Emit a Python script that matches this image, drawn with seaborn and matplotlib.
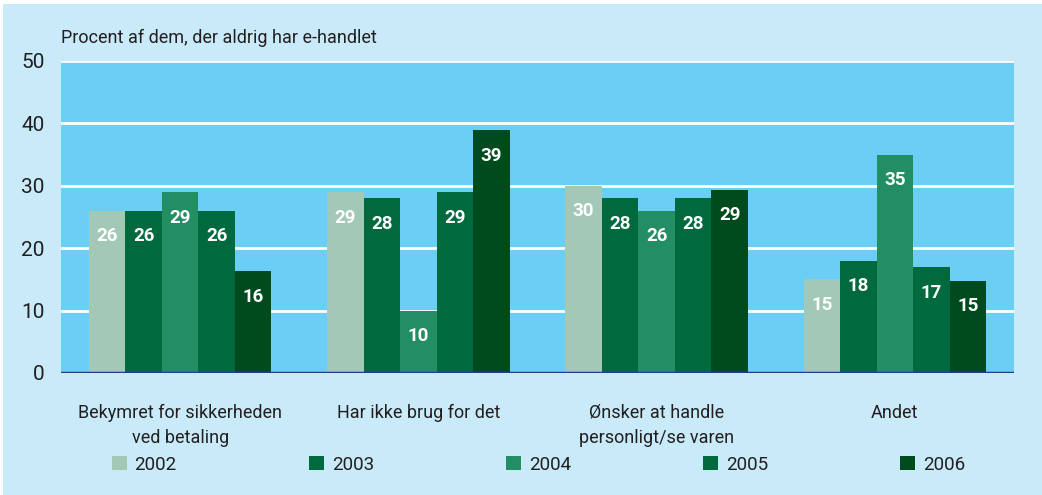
import matplotlib
matplotlib.use("Agg")
import matplotlib.pyplot as plt
import seaborn as sns
import pandas as pd
from matplotlib.patches import Patch, Rectangle

categories = ["Bekymret for sikkerheden\nved betaling", "Har ikke brug for det",
              "Ønsker at handle\npersonligt/se varen", "Andet"]
years = ["2002", "2003", "2004", "2005", "2006"]
v2002 = [26, 29, 30, 15]
v2003 = [26, 28, 28, 18]
v2004 = [29, 10, 26, 35]
v2005 = [26, 29, 28, 17]
v2006 = [16.3, 38.9, 29.4, 14.8]
colors = ["#A1C9B5", "#00693E", "#238D64", "#00693E", "#004B1D"]
yticks = [0, 10, 20, 30, 40, 50]
title = "Procent af dem, der aldrig har e-handlet"

series = [v2002, v2003, v2004, v2005, v2006]
rows = []
for y, vals in zip(years, series):
    for c, v in zip(categories, vals):
        rows.append({"cat": c, "year": y, "val": v})
df = pd.DataFrame(rows)

sns.set_style("white")
plt.rcParams["font.family"] = ["DejaVu Sans Condensed", "Roboto", "DejaVu Sans"]

fig = plt.figure(figsize=(10.42, 4.95), dpi=100)
fig.patch.set_facecolor("#C8EAF9")
fig.patches.append(Rectangle((0, 1 - 4/495), 1, 4/495, transform=fig.transFigure,
                             facecolor="white", edgecolor="none", zorder=-10))
fig.patches.append(Rectangle((0, 0), 3/1042, 1, transform=fig.transFigure,
                             facecolor="white", edgecolor="none", zorder=-10))
ax = fig.add_axes([61/1042, 1 - 373/495, (1014 - 61)/1042, (373 - 61)/495])
ax.set_facecolor("#6BCEF5")

sns.barplot(data=df, x="cat", y="val", hue="year", palette=colors, ax=ax,
            width=0.767, gap=0, legend=False, saturation=1, linewidth=0)

ax.set_ylim(0, 50)
ax.set_xlim(-0.5, 3.5)
ax.set_yticks(yticks)
ax.grid(axis="y", color="white", linewidth=2)
ax.set_axisbelow(True)
for s in ax.spines.values():
    s.set_visible(False)
ax.axhline(0, color="#2B3990", linewidth=2.5, zorder=5)
ax.tick_params(axis="both", length=0, labelsize=13, colors="#231F20")
ax.tick_params(axis="y", pad=12, labelsize=15)
ax.tick_params(axis="x", pad=22)
ax.set_xlabel("")
ax.set_ylabel("")
for lab in ax.get_xticklabels():
    lab.set_linespacing(1.5)

for p in ax.patches:
    h = p.get_height()
    if h > 0:
        ax.annotate(f"{round(h)}", (p.get_x() + p.get_width() / 2, h),
                    xytext=(0, -12), textcoords="offset points",
                    ha="center", va="top", color="white", fontsize=13.5,
                    fontweight="bold", zorder=6)

fig.text(61/1042, 1 - 38/495, title, fontsize=13, color="#231F20", va="center")

handles = [Patch(facecolor=c, edgecolor="none", label=y) for c, y in zip(colors, years)]
fig.legend(handles=handles, ncol=5, loc="center left", mode="expand",
           bbox_to_anchor=(112/1042, 1 - 465/495, (965 - 112)/1042, 0.001),
           frameon=False, fontsize=13.5, handlelength=0.8, handleheight=0.8,
           handletextpad=0.4, borderaxespad=0, borderpad=0, labelcolor="#231F20")

fig.savefig("out.png", dpi=100, facecolor=fig.get_facecolor())
